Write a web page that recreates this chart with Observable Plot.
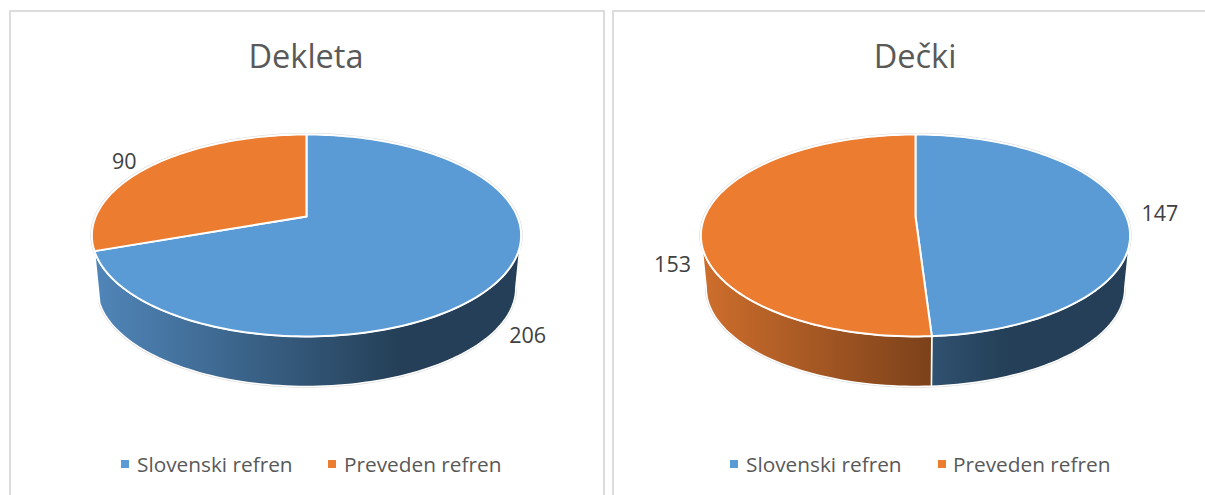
<!DOCTYPE html>
<html>
<head>
<meta charset="utf-8">
<script src="https://cdn.jsdelivr.net/npm/d3@7"></script>
<script src="https://cdn.jsdelivr.net/npm/@observablehq/plot@0.6"></script>
<style>
  html,body{margin:0;padding:0;background:#fff;width:1205px;height:495px;overflow:hidden;font-family:"Open Sans",sans-serif;}
  .panel{position:absolute;top:10px;width:592px;height:520px;border:2px solid #dcdcdc;box-sizing:content-box;}
  .title{position:absolute;font-size:32.5px;color:#595959;transform:translateX(-50%);white-space:nowrap;line-height:44px;top:34px;}
  .chart{position:absolute;top:110px;}
  .legend{position:absolute;top:451px;font-size:20.8px;line-height:26px;color:#595959;white-space:nowrap;}
  .sw{position:absolute;top:460px;width:8px;height:8px;}
</style>
</head>
<body>
<script>
const categories = ["Slovenski refren", "Preveden refren"];
const colors = ["#5b9bd5", "#eb7c30"];
const titles = ["Dekleta", "Dečki"];
const dekleta = [206, 90];
const decki = [147, 153];

// layout of the two panels (pixels)
const P = 0.188, PX = 210.8, PY = 97.4, BOTTOM_SCALE = 0.975, DROP = 53 / 97.4;
const EDGE = Math.acos(-P) * 180 / Math.PI; // rim angle where the silhouette turns
const panels = [
  {name: titles[0], values: dekleta, left: 0,   width: 604, apex: 306, apexY: 106,
   labelOffsets: [[28, 57], [-27, -4]], legendX: [[121, 137], [328, 344]]},
  {name: titles[1], values: decki,   left: 609, width: 596, apex: 306, apexY: 106,
   labelOffsets: [[35, 1], [-31, 46]], legendX: [[730, 746], [938, 953]]}
];
const wallStops = [["#5085b8", "#243f57"], ["#cc6d2c", "#603214"]];

// circle on the pie's plane → projected point (perspective)
function rim(theta, level) {
  const t = theta * Math.PI / 180, u = Math.sin(t), v = -Math.cos(t), d = 1 - P * v;
  const x = u / d, y = v / d;
  return level ? {x: BOTTOM_SCALE * x, y: DROP + BOTTOM_SCALE * y} : {x, y};
}
function arc(a, b, level) {
  const n = Math.max(2, Math.ceil(Math.abs(b - a) / 1.5));
  return d3.range(n + 1).map(i => rim(a + (b - a) * i / n, level));
}

function drawPanel(p, idx) {
  const total = d3.sum(p.values);
  let acc = 0;
  const slices = p.values.map((v, i) => {
    const a = acc / total * 360; acc += v;
    return {i, value: v, a, b: acc / total * 360};
  });
  const walls = slices
    .map(s => ({i: s.i, a: Math.max(s.a, EDGE), b: Math.min(s.b, 360 - EDGE)}))
    .filter(w => w.b - w.a >= 15);
  const wallEnd = d3.max(walls, w => w.b);
  const marks = [];
  const gid = k => `wall-${idx}-${k}`;
  marks.push(() => {
    const ns = "http://www.w3.org/2000/svg";
    const defs = document.createElementNS(ns, "defs");
    colors.forEach((c, k) => {
      const g = document.createElementNS(ns, "linearGradient");
      g.setAttribute("id", gid(k));
      g.setAttribute("gradientUnits", "userSpaceOnUse");
      g.setAttribute("x1", p.apex - 209); g.setAttribute("x2", p.apex + 94);
      g.setAttribute("y1", 0); g.setAttribute("y2", 0);
      wallStops[k].forEach((col, j) => {
        const s = document.createElementNS(ns, "stop");
        s.setAttribute("offset", j); s.setAttribute("stop-color", col);
        g.appendChild(s);
      });
      defs.appendChild(g);
    });
    return defs;
  });
  // soft silhouette under everything
  marks.push(Plot.line(arc(0, 360, 0), {x: "x", y: "y", stroke: "#d8d8d8", strokeWidth: 3}));
  marks.push(Plot.line(arc(EDGE, wallEnd, 1), {x: "x", y: "y", stroke: "#d8d8d8", strokeWidth: 2.6}));
  // walls
  walls.forEach(w => {
    marks.push(Plot.line([...arc(w.a, w.b, 0), ...arc(w.b, w.a, 1), rim(w.a, 0)], {
      x: "x", y: "y", fill: `url(#${gid(w.i)})`, stroke: "#fff", strokeWidth: 1.5
    }));
  });
  // top faces
  slices.forEach(s => {
    marks.push(Plot.line([{x: 0, y: 0}, ...arc(s.a, s.b, 0), {x: 0, y: 0}], {
      x: "x", y: "y", fill: colors[s.i], stroke: "#fff", strokeWidth: 2, strokeLinejoin: "round"
    }));
  });
  // value labels
  slices.forEach(s => {
    const pos = rim((s.a + s.b) / 2, 0), off = p.labelOffsets[s.i];
    marks.push(Plot.text([{...pos, value: s.value}], {
      x: "x", y: "y", text: "value", dx: off[0], dy: off[1],
      fill: "#404040", fontSize: 21.5, textAnchor: "middle", lineAnchor: "middle"
    }));
  });
  const H = 300;
  const chart = Plot.plot({
    width: p.width, height: H, margin: 0,
    style: {background: "transparent", fontFamily: '"Open Sans",sans-serif', overflow: "visible"},
    x: {axis: null, domain: [-p.apex / PX, (p.width - p.apex) / PX], range: [0, p.width]},
    y: {axis: null, domain: [-p.apexY / PY, (H - p.apexY) / PY], range: [0, H]},
    marks
  });
  const box = document.createElement("div");
  box.className = "panel";
  box.style.left = (idx === 0 ? 9 : 612) + "px";
  document.body.appendChild(box);

  const host = document.createElement("div");
  host.className = "chart";
  host.style.left = p.left + "px";
  host.appendChild(chart);
  document.body.appendChild(host);

  const t = document.createElement("div");
  t.className = "title";
  t.textContent = p.name;
  t.style.left = (p.left + p.apex) + "px";
  document.body.appendChild(t);

  categories.forEach((c, k) => {
    const sw = document.createElement("div");
    sw.className = "sw";
    sw.style.left = p.legendX[k][0] + "px";
    sw.style.background = colors[k];
    document.body.appendChild(sw);
    const l = document.createElement("div");
    l.className = "legend";
    l.textContent = c;
    l.style.left = p.legendX[k][1] + "px";
    document.body.appendChild(l);
  });
}
panels.forEach(drawPanel);
</script>
</body>
</html>
